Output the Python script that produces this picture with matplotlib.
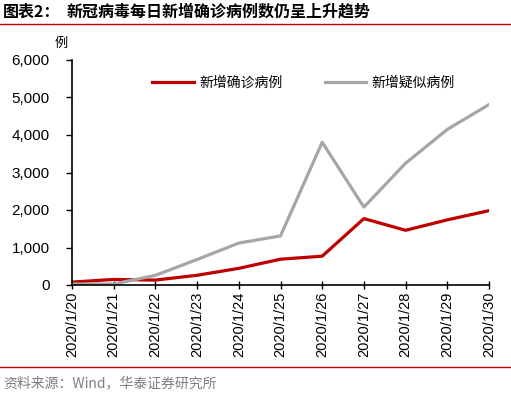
import matplotlib.pyplot as plt
from matplotlib.lines import Line2D

plt.rcParams["font.family"] = ["Liberation Sans", "Noto Sans CJK SC", "DejaVu Sans"]

dates = ["2020/1/20", "2020/1/21", "2020/1/22", "2020/1/23", "2020/1/24", "2020/1/25",
         "2020/1/26", "2020/1/27", "2020/1/28", "2020/1/29", "2020/1/30"]
confirmed = [77, 149, 131, 259, 444, 688, 769, 1771, 1459, 1737, 1982]
suspected = [27, 26, 257, 680, 1118, 1309, 3806, 2077, 3248, 4148, 4812]
yticks = [0, 1000, 2000, 3000, 4000, 5000, 6000]

RED = "#C00000"
GRAY = "#A6A6A6"
CJK = ["Noto Sans CJK SC", "DejaVu Sans"]

fig = plt.figure(figsize=(5.11, 3.95), dpi=100)
ax = fig.add_axes([72 / 511, 1 - 285 / 395, (489 - 72) / 511, (285 - 60) / 395])

x = list(range(len(dates)))
ax.plot(x, confirmed, color=RED, linewidth=2.3, label="新增确诊病例")
ax.plot(x, suspected, color=GRAY, linewidth=2.3, label="新增疑似病例")

ax.set_xlim(0, len(dates) - 1)
ax.set_ylim(0, 6000)
ax.set_yticks(yticks)
ax.set_yticklabels([f"{v:,}" for v in yticks], fontsize=11)
ax.set_xticks(x)
ax.set_xticklabels(dates, rotation=90, fontsize=10.5)
ax.tick_params(axis="y", direction="out", length=4, width=1, color="black", pad=12)
ax.tick_params(axis="x", direction="inout", length=6, width=1, color="black", pad=2)
for side in ["top", "right"]:
    ax.spines[side].set_visible(False)
for side in ["left", "bottom"]:
    ax.spines[side].set_linewidth(1.2)
    ax.spines[side].set_color("black")

handles = [Line2D([], [], color=RED, linewidth=2.3), Line2D([], [], color=GRAY, linewidth=2.3)]
ax.legend(handles, ["新增确诊病例", "新增疑似病例"], loc="upper left",
          bbox_to_anchor=(0.163, 0.985), ncol=2, frameon=False, columnspacing=3.0,
          handlelength=3.0, handletextpad=0.4, prop={"family": CJK, "size": 10})

fig.text(55 / 511, 1 - 43 / 395, "例", fontsize=9.5, family=CJK, va="center")

fig.text(3 / 511, 1 - 12 / 395, "图表2：", fontsize=11.5, family=CJK, weight="bold", va="center")
fig.text(67 / 511, 1 - 12 / 395, "新冠病毒每日新增确诊病例数仍呈上升趋势", fontsize=11.5, family=CJK,
         weight="bold", va="center")
fig.add_artist(Line2D([0, 1], [1 - 24 / 395, 1 - 24 / 395], color="#C00000", linewidth=1.0))
fig.add_artist(Line2D([0, 1], [1 - 367 / 395, 1 - 367 / 395], color="#C00000", linewidth=1.0))
fig.text(3 / 511, 1 - 383 / 395, "资料来源：Wind，华泰证券研究所", fontsize=10, family=CJK,
         color="#7F7F7F", va="center")

fig.savefig("out.png", dpi=100)
